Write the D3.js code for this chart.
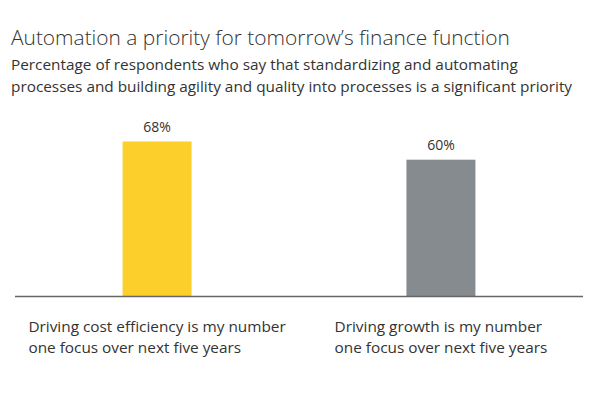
<!DOCTYPE html>
<html>
<head>
<meta charset="utf-8">
<script src="https://cdn.jsdelivr.net/npm/d3@7"></script>
<style>
  body { margin: 0; background: #fff; }
  text { font-family: "Open Sans", Lato, sans-serif; fill: #333; }
</style>
</head>
<body>
<svg id="chart" width="600" height="402"></svg>
<script>
// chart data
const categories = ['cost', 'growth'];
const values = [68, 60];
const labelLines = [
  ['Driving cost efficiency is my number', 'one focus over next five years'],
  ['Driving growth is my number', 'one focus over next five years']
];
const barColors = ['#fccf2b', '#868b8f'];
const title = 'Automation a priority for tomorrow\u2019s finance function';
const subtitle = [
  'Percentage of respondents who say that standardizing and automating',
  'processes and building agility and quality into processes is a significant priority'
];

const svg = d3.select('#chart');
const baseY = 296.5;

const x = d3.scaleBand().domain(categories).range([15, 583])
  .paddingInner(0.757).paddingOuter(0.379);
const y = d3.scaleLinear().domain([0, 100]).range([baseY, baseY - 228]);

// title + subtitle
svg.append('text').attr('x', 11).attr('y', 45)
  .attr('font-size', 20.9).attr('font-weight', 300).text(title);

svg.selectAll('.sub').data(subtitle).enter().append('text')
  .attr('class', 'sub')
  .attr('x', 11).attr('y', (d, i) => 70 + i * 22)
  .attr('font-size', 15.35).text(d => d);

// bars
svg.selectAll('.bar').data(values).enter().append('rect')
  .attr('class', 'bar')
  .attr('x', (d, i) => x(categories[i]))
  .attr('width', x.bandwidth())
  .attr('y', d => y(d))
  .attr('height', d => y(0) - y(d))
  .attr('fill', (d, i) => barColors[i]);

// value labels
svg.selectAll('.val').data(values).enter().append('text')
  .attr('class', 'val')
  .attr('x', (d, i) => x(categories[i]) + x.bandwidth() / 2)
  .attr('y', d => y(d) - 9.5)
  .attr('text-anchor', 'middle')
  .attr('font-size', 14)
  .text(d => d + '%');

// baseline
svg.append('line')
  .attr('x1', 15).attr('x2', 583)
  .attr('y1', baseY).attr('y2', baseY)
  .attr('stroke', '#666').attr('stroke-width', 1.5);

// category labels: left-aligned block centred under each bar
categories.forEach(function(c, i){
  let g = svg.append('text').attr('font-size', 15.35);
  labelLines[i].forEach(function(line, j){
    g.append('tspan').attr('x', 0).attr('y', 332 + j * 20.5).text(line);
  });
  let w = d3.max(g.selectAll('tspan').nodes(), n => n.getComputedTextLength());
  let cx = x(c) + x.bandwidth() / 2;
  g.selectAll('tspan').attr('x', cx - w / 2);
});
</script>
</body>
</html>
